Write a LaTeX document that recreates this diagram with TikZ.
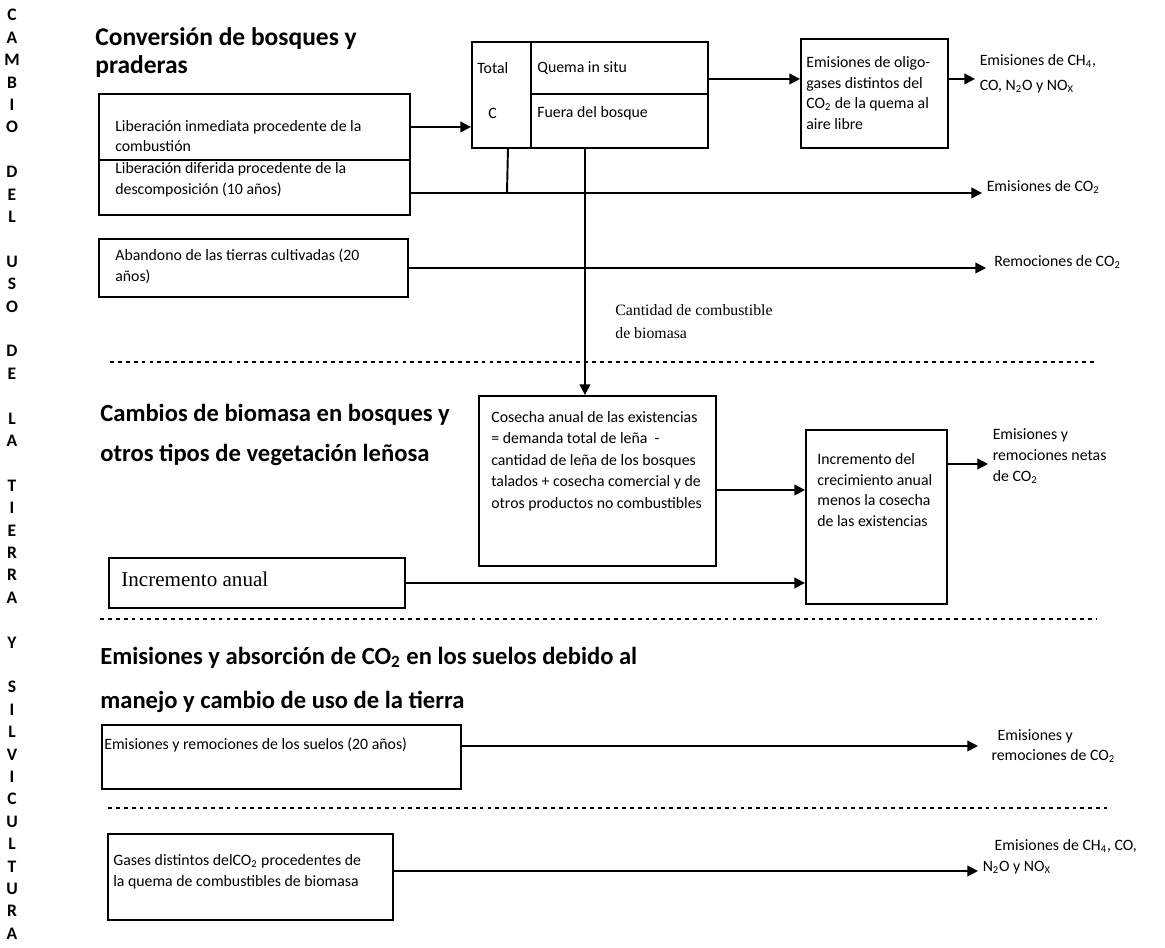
\documentclass[tikz,border=0pt]{standalone}
\usepackage{fontspec}
\setmainfont{Carlito}
\newfontfamily\timesfont{Liberation Serif}
\usetikzlibrary{arrows.meta}
\tikzset{>={Triangle[length=6pt,width=6pt]}}
\tikzset{
  caja/.style={draw, line width=1.1pt, inner sep=0pt, anchor=north west},
  texto/.style={anchor=west, align=left, inner sep=0pt, font=\fontsize{9}{11.8}\selectfont},
  etiq/.style={texto, inner xsep=2.5pt},
  titulo/.style={anchor=west, align=left, inner sep=0pt},
  flecha/.style={line width=1.1pt, ->},
  linea/.style={line width=1.1pt},
  puntos/.style={line width=0.7pt, dash pattern=on 2.2pt off 2.3pt},
}
\newcommand{\cdos}{CO\textsubscript{2}}

\begin{document}
\begin{tikzpicture}[x=0.02cm, y=-0.02cm]
    \useasboundingbox (0,0) rectangle (1165,947);
    % texto lateral
    \node[anchor=north, inner sep=0pt, align=center, font=\bfseries\fontsize{10}{12.75}\selectfont] (lado) at (12,9)
      {C\\A\\M\\B\\I\\O\\[12.75pt]D\\E\\L\\[12.75pt]U\\S\\O\\[12.75pt]D\\E\\[12.75pt]L\\A\\[12.75pt]T\\I\\E\\R\\R\\A\\[12.75pt]Y\\[12.75pt]S\\I\\L\\V\\I\\C\\U\\L\\T\\U\\R\\A};

    % conversion de bosques
    \node[titulo, font=\bfseries\fontsize{14.5}{16}\selectfont] (tit1) at (95,53) {Conversión de bosques y\\praderas};
    \node[caja, minimum width=6.22cm, minimum height=1.32cm] (libA) at (98,93) {};
    \node[caja, minimum width=6.22cm, minimum height=1.10cm] (libB) at (98,159) {};
    \node[texto] (libAt) at (115,136) {Liberación inmediata procedente de la\\combustión};
    \node[texto] (libBt) at (115,180) {Liberación diferida procedente de la\\descomposición (10~años)};
    \node[caja, minimum width=1.18cm, minimum height=2.12cm] (tot) at (471,41) {};
    \node[caja, minimum width=3.54cm, minimum height=1.04cm] (que) at (530,41) {};
    \node[caja, minimum width=3.54cm, minimum height=1.08cm] (fue) at (530,93) {};
    \node[texto] (totT) at (477,68) {Total};
    \node[texto] (totC) at (488,113) {C};
    \node[texto] (queT) at (537,68) {Quema in situ};
    \node[texto] (fueT) at (537,113) {Fuera del bosque};
    \node[caja, minimum width=2.94cm, minimum height=2.18cm] (oli) at (800,38) {};
    \node[texto, font=\fontsize{9}{11.6}\selectfont] (oliT) at (806,93) {Emisiones de oligo-\\gases distintos del\\\cdos{} de la quema al\\aire libre};
    \node[etiq, font=\fontsize{9}{14.5}\selectfont] (ch4a) at (975,74) {Emisiones de CH\textsubscript{4},\\CO, N\textsubscript{2}O y NO\textsubscript{X}};
    \node[etiq] (co2a) at (982,187) {Emisiones de \cdos};
    \node[caja, minimum width=6.18cm, minimum height=1.16cm] (aba) at (98,238) {};
    \node[texto] (abaT) at (115,266) {Abandono de las tierras cultivadas (20\\años)};
    \node[etiq] (rem) at (986,262) {\hspace{2pt}Remociones de \cdos};
    \node[texto, font=\timesfont\fontsize{9}{13}\selectfont] (cant) at (615,322) {Cantidad de combustible\\de biomasa};

    \coordinate (j1) at (507,192);
    \draw[flecha] (libA.east) -- (libA.east -| tot.west);
    \draw[flecha] ([yshift=-0.11cm]libB.east) -- ([yshift=-0.11cm]libB.east -| co2a.west);
    \draw[linea] ([xshift=0.13cm]tot.south) -- (j1);
    \draw[flecha] ([yshift=-0.22cm]que.east) -- ([yshift=-0.22cm]que.east -| oli.west);
    \draw[flecha] ([yshift=0.29cm]oli.east) -- ([yshift=0.29cm]oli.east -| ch4a.west);
    \draw[flecha] (aba.east) -- (aba.east -| rem.west);

    % biomasa
    \draw[puntos] (110,362) -- (1097,362);
    \node[titulo, font=\bfseries\fontsize{14}{22.7}\selectfont] (tit2) at (100,435) {Cambios de biomasa en bosques y\\otros tipos de vegetación leñosa};
    \node[caja, minimum width=4.74cm, minimum height=3.40cm] (cos) at (478,395) {};
    \node[texto, font=\fontsize{9}{12.3}\selectfont] (cosT) at (491,461) {Cosecha anual de las existencias\\= demanda total de leña~~-\\cantidad de leña de los bosques\\talados + cosecha comercial y de\\otros productos no combustibles};
    \node[caja, minimum width=2.82cm, minimum height=3.48cm] (inc) at (805,429) {};
    \node[texto] (incT) at (817,490) {Incremento del\\crecimiento anual\\menos la cosecha\\de las existencias};
    \node[etiq] (net) at (988,456) {Emisiones y\\remociones netas\\de \cdos};
    \node[caja, minimum width=5.92cm, minimum height=1.0cm] (ian) at (108,557) {};
    \node[texto, font=\timesfont\fontsize{12}{14}\selectfont] (ianT) at (121,579) {Incremento anual};

    \draw[flecha] ([xshift=-0.69cm]fue.south) -- ([xshift=-0.69cm]fue.south |- cos.north);
    \draw[flecha] ([yshift=-0.18cm]cos.east) -- ([yshift=-0.18cm]cos.east -| inc.west);
    \draw[flecha] ([yshift=1.06cm]inc.east) -- ([yshift=1.06cm]inc.east -| net.west);
    \draw[flecha] (ian.east) -- (ian.east -| inc.west);

    % suelos
    \draw[puntos] (100,619) -- (1097,619);
    \node[titulo, font=\bfseries\fontsize{14}{25.5}\selectfont] (tit3) at (100,680) {Emisiones y absorción de \cdos{} en los suelos debido al\\manejo y cambio de uso de la tierra};
    \node[caja, minimum width=7.18cm, minimum height=1.28cm] (sue) at (101,724) {};
    \node[texto] (sueT) at (104,745) {Emisiones y remociones de los suelos (20~años)};
    \node[etiq] (sueE) at (978,746) {\hspace{8.5pt}Emisiones y\\\hspace{5pt}remociones de \cdos};
    \draw[flecha] ([yshift=0.22cm]sue.east) -- ([yshift=0.22cm]sue.east -| sueE.west);

    % gases distintos del CO2
    \draw[puntos] (108,808) -- (1107,808);
    \node[caja, minimum width=5.70cm, minimum height=1.72cm] (gas) at (107,833) {};
    \node[texto] (gasT) at (113,872) {Gases distintos del\cdos{} procedentes de\\la quema de combustibles de biomasa};
    \node[etiq] (gasE) at (978,857) {\hspace{6.8pt}Emisiones de CH\textsubscript{4}, CO,\\N\textsubscript{2}O y NO\textsubscript{X}};
    \draw[flecha] ([yshift=0.12cm]gas.east) -- ([yshift=0.12cm]gas.east -| gasE.west);
\end{tikzpicture}
\end{document}
